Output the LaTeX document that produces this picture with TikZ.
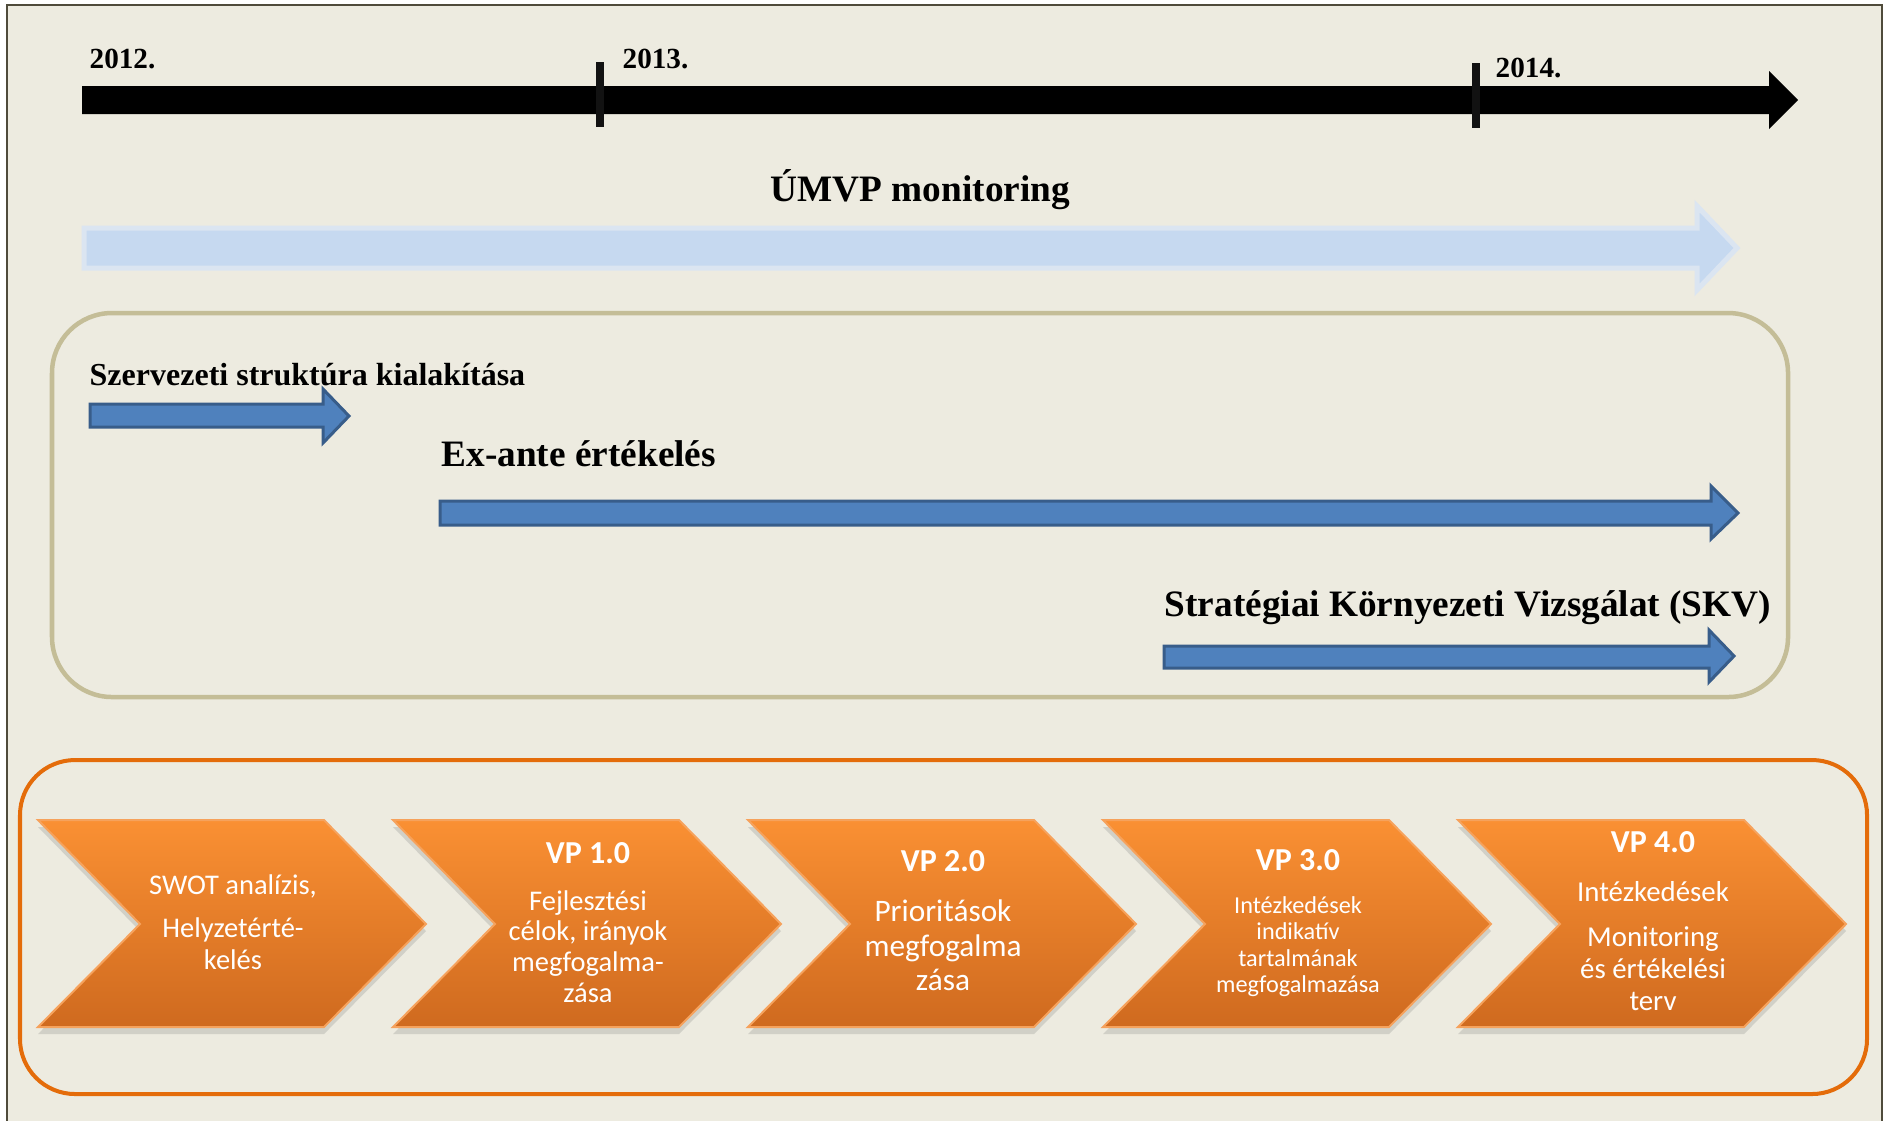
\documentclass[tikz,border=0pt]{standalone}
\usepackage{fontspec}
\setmainfont{Liberation Serif}
\newfontfamily\calibrifont{Carlito}
\usetikzlibrary{shadows}
\definecolor{paper}{HTML}{EDEBE0}
\definecolor{framecol}{HTML}{4F4B3B}
\definecolor{skyfill}{HTML}{C6D9F0}
\definecolor{skyedge}{HTML}{DBE5F1}
\definecolor{khaki}{HTML}{C4BD97}
\definecolor{barfill}{HTML}{4F81BD}
\definecolor{baredge}{HTML}{385D8A}
\definecolor{orangeline}{HTML}{E46C0A}
\definecolor{chevtop}{HTML}{FA9033}
\definecolor{chevbot}{HTML}{CF6A1F}
\definecolor{chevedge}{HTML}{F6A25C}
\newcommand{\vphead}[1]{{\calibrifont\fontsize{9.1}{9}\selectfont\bfseries #1}}
\tikzset{
  year/.style={anchor=base west, inner sep=0pt, font=\fontsize{8.3}{10}\selectfont\bfseries},
  phase/.style={anchor=base west, inner sep=0pt, font=\fontsize{10.6}{12}\selectfont\bfseries},
  bluebar/.style={fill=barfill, draw=baredge, line width=0.3mm},
  chevron/.style={top color=chevtop, bottom color=chevbot, draw=chevedge, line width=0.2mm,
    drop shadow={shadow xshift=0mm, shadow yshift=-0.7mm, opacity=0.25}},
  chevtext/.style={align=center, text=white, inner sep=0pt, font=\calibrifont\fontsize{8.1}{9.1}\selectfont}
}
\begin{document}
\begin{tikzpicture}[x=0.01cm, y=-0.01cm]
        \useasboundingbox (0,0) rectangle (1886,1120);
        \fill[white] (0,0) rectangle (1886,1120);
        \draw[framecol, line width=0.25mm, fill=paper] (7,5) rectangle (1882,1140);
        \fill (82,86) -- (1769,86) -- (1769,71) -- (1798,100) -- (1769,129) -- (1769,114) -- (82,114) -- cycle;
        \draw[line width=0.75mm, black!93] (600,62) -- (600,127);
        \draw[line width=0.75mm, black!93] (1476,63) -- (1476,128);
        \node[year] at (89,68) (y2012) {2012.};
        \node[year] at (622,68) (y2013) {2013.};
        \node[year] at (1495,77) (y2014) {2014.};
        \node[phase] at (770,201) (umvp) {ÚMVP monitoring};
        \draw[skyedge, fill=skyfill, line width=0.5mm] (84,228) -- (1697,228) -- (1697,206) -- (1737,248) -- (1697,290) -- (1697,268) -- (84,268) -- cycle;
        \draw[khaki, line width=0.45mm, rounded corners=6mm] (52,313) rectangle (1788,697);
        \node[phase, font=\fontsize{9.1}{11}\selectfont\bfseries] at (89,385) (szerv) {Szervezeti struktúra kialakítása};
        \draw[bluebar] (90,404) -- (323,404) -- (323,389) -- (349,416) -- (323,443) -- (323,427) -- (90,427) -- cycle;
        \node[phase] at (441,466) (exante) {Ex-ante értékelés};
        \draw[bluebar] (440,501) -- (1711,501) -- (1711,486) -- (1738,513) -- (1711,539) -- (1711,525) -- (440,525) -- cycle;
        \node[phase] at (1164,616) (skv) {Stratégiai Környezeti Vizsgálat (SKV)};
        \draw[bluebar] (1164,646) -- (1709,646) -- (1709,630) -- (1734,656) -- (1709,682) -- (1709,668) -- (1164,668) -- cycle;
        \draw[orangeline, line width=0.4mm, rounded corners=5.5mm] (20,760) rectangle (1867,1094);
        \draw[chevron] (38,820) -- (324,820) -- (426,924) -- (324,1027) -- (38,1027) -- (140,924) -- cycle;
        \draw[chevron] (393,820) -- (679,820) -- (781,924) -- (679,1027) -- (393,1027) -- (495,924) -- cycle;
        \draw[chevron] (748,820) -- (1034,820) -- (1136,924) -- (1034,1027) -- (748,1027) -- (850,924) -- cycle;
        \draw[chevron] (1103,820) -- (1389,820) -- (1491,924) -- (1389,1027) -- (1103,1027) -- (1205,924) -- cycle;
        \draw[chevron] (1458,820) -- (1744,820) -- (1846,924) -- (1744,1027) -- (1458,1027) -- (1560,924) -- cycle;
        \node[chevtext] at (233,922) (swot) {SWOT analízis,\\[3pt]Helyzetérté-\\kelés};
        \node[chevtext, font=\calibrifont\fontsize{8.1}{8.8}\selectfont] at (588,923) (vp1) {\vphead{VP 1.0}\\[4.3pt]Fejlesztési\\célok, irányok\\megfogalma-\\zása};
        \node[chevtext, font=\calibrifont\fontsize{8.9}{9.9}\selectfont] at (943,921) (vp2) {\vphead{VP 2.0}\\[4.1pt]Prioritások\\megfogalma\\zása};
        \node[chevtext, font=\calibrifont\fontsize{6.9}{7.5}\selectfont] at (1298,923) (vp3) {\vphead{VP 3.0}\\[4.7pt]Intézkedések\\indikatív\\tartalmának\\megfogalmazása};
        \node[chevtext, font=\calibrifont\fontsize{8.2}{9.1}\selectfont] at (1653,921) (vp4) {\vphead{VP 4.0}\\[4.6pt]Intézkedések\\[3.7pt]Monitoring\\és értékelési\\terv};
      \end{tikzpicture}
\end{document}
